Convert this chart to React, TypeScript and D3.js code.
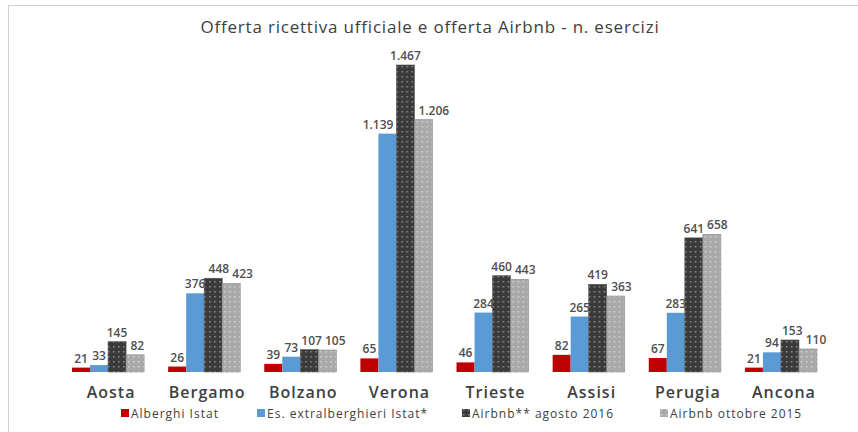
import * as d3 from "d3";
import { useEffect, useRef } from "react";

const cities = ["Aosta", "Bergamo", "Bolzano", "Verona", "Trieste", "Assisi", "Perugia", "Ancona"];
const alberghi = [21, 26, 39, 65, 46, 82, 67, 21];
const extralberghieri = [33, 376, 73, 1139, 284, 265, 283, 94];
const airbnb2016 = [145, 448, 107, 1467, 460, 419, 641, 153];
const airbnb2015 = [82, 423, 105, 1206, 443, 363, 658, 110];
const seriesNames = [
  "Alberghi Istat",
  "Es. extralberghieri Istat*",
  "Airbnb** agosto 2016",
  "Airbnb ottobre 2015",
];

const App = () => {
  const svgRef = useRef<SVGSVGElement>(null);

  useEffect(() => {
    const w = 858;
    const h = 432;
    const svg = d3.select(svgRef.current).attr("width", w).attr("height", h);
    svg.selectAll("*").remove();

    const font = "'Open Sans', 'DejaVu Sans', sans-serif";
    const textColor = "#404040";

    // dotted patterns for the airbnb series
    const defs = svg.append("defs");
    const dark = defs.append("pattern").attr("id", "darkDots")
      .attr("width", 5).attr("height", 5).attr("patternUnits", "userSpaceOnUse");
    dark.append("rect").attr("width", 5).attr("height", 5).attr("fill", "#3a3a3a");
    dark.append("rect").attr("x", 1).attr("y", 1).attr("width", 1.5).attr("height", 1.5).attr("fill", "#8f8f8f");
    const light = defs.append("pattern").attr("id", "lightDots")
      .attr("width", 5).attr("height", 5).attr("patternUnits", "userSpaceOnUse");
    light.append("rect").attr("width", 5).attr("height", 5).attr("fill", "#a9a9a9");
    light.append("rect").attr("x", 1).attr("y", 1).attr("width", 1.5).attr("height", 1.5).attr("fill", "#d4d4d4");

    const fills = ["#c00000", "#5b9bd5", "url(#darkDots)", "url(#lightDots)"];
    const strokes = ["none", "none", "#555", "#8a8a8a"];

    // chart frame
    svg.append("rect")
      .attr("x", 8.5).attr("y", 5.5).attr("width", 900).attr("height", 500)
      .attr("fill", "white").attr("stroke", "#cfcfcf");

    svg.append("text")
      .attr("x", 430).attr("y", 33)
      .attr("text-anchor", "middle")
      .attr("font-family", font).attr("font-size", 17).attr("font-weight", 500)
      .attr("letter-spacing", 0.8)
      .attr("fill", textColor)
      .text("Offerta ricettiva ufficiale e offerta Airbnb - n. esercizi");

    const baseline = 372;
    const x0 = d3.scaleBand().domain(cities).range([72, 817]).paddingInner(0.25).paddingOuter(0);
    const x1 = d3.scaleBand().domain(d3.range(4).map(String)).range([0, x0.bandwidth()]);
    const y = d3.scaleLinear().domain([0, 1467]).range([baseline, 65]);

    const series = [alberghi, extralberghieri, airbnb2016, airbnb2015];
    const fmt = (v: number) => d3.format(",")(v).replace(/,/g, ".");

    const groups = svg.append("g").selectAll("g").data(cities).join("g")
      .attr("transform", (d) => `translate(${x0(d)},0)`);

    groups.each(function (city, ci) {
      const g = d3.select(this);
      let prev: SVGTextElement | null = null;
      series.forEach((s, si) => {
        const v = s[ci];
        const bx = x1(String(si))!;
        const bw = x1.bandwidth();
        g.append("rect")
          .attr("x", bx)
          .attr("y", y(v))
          .attr("width", bw)
          .attr("height", baseline - y(v))
          .attr("fill", fills[si])
          .attr("stroke", strokes[si])
          .attr("stroke-width", 0.6);
        // long labels are pushed away from the tallest bar, as in the original
        const long = fmt(v).length > 3;
        let lx = bx + bw / 2;
        let anchor = "middle";
        if (long && si === 1) { lx = bx + bw - 3; anchor = "end"; }
        if (long && si === 3) { lx = bx + 4; anchor = "start"; }
        const t = g.append("text")
          .attr("x", lx)
          .attr("y", y(v) - 5)
          .attr("text-anchor", anchor)
          .attr("font-family", font).attr("font-size", 12).attr("font-weight", 600)
          .attr("fill", "#4f4f4f")
          .text(fmt(v));
        // nudge right if it collides with the previous label
        const node = t.node()!;
        if (prev) {
          const a = prev.getBBox();
          const b = node.getBBox();
          const vOverlap = a.y < b.y + b.height && b.y < a.y + a.height;
          const gap = a.x + a.width + 3 - b.x;
          if (vOverlap && gap > 0) t.attr("x", lx + gap);
        }
        prev = node;
      });
    });

    // category labels
    svg.append("g").selectAll("text").data(cities).join("text")
      .attr("x", (d) => x0(d)! + x0.bandwidth() / 2 + 3)
      .attr("y", 398)
      .attr("text-anchor", "middle")
      .attr("font-family", font).attr("font-size", 16).attr("font-weight", 600)
      .attr("letter-spacing", 1)
      .attr("fill", textColor)
      .text((d) => d);

    // legend
    const legendX = [121, 257, 462, 660];
    const legend = svg.append("g").selectAll("g").data(seriesNames).join("g")
      .attr("transform", (d, i) => `translate(${legendX[i]},418)`);
    legend.append("rect")
      .attr("x", 0).attr("y", -9).attr("width", 8).attr("height", 8)
      .attr("fill", (d, i) => fills[i]);
    legend.append("text")
      .attr("x", 10).attr("y", 0)
      .attr("font-family", font).attr("font-size", 12).attr("font-weight", 500)
      .attr("letter-spacing", 1)
      .attr("fill", textColor)
      .text((d) => d);
  }, []);

  return <svg ref={svgRef} style={{ position: "absolute", left: 0, top: 0 }}></svg>;
};

export default App;
